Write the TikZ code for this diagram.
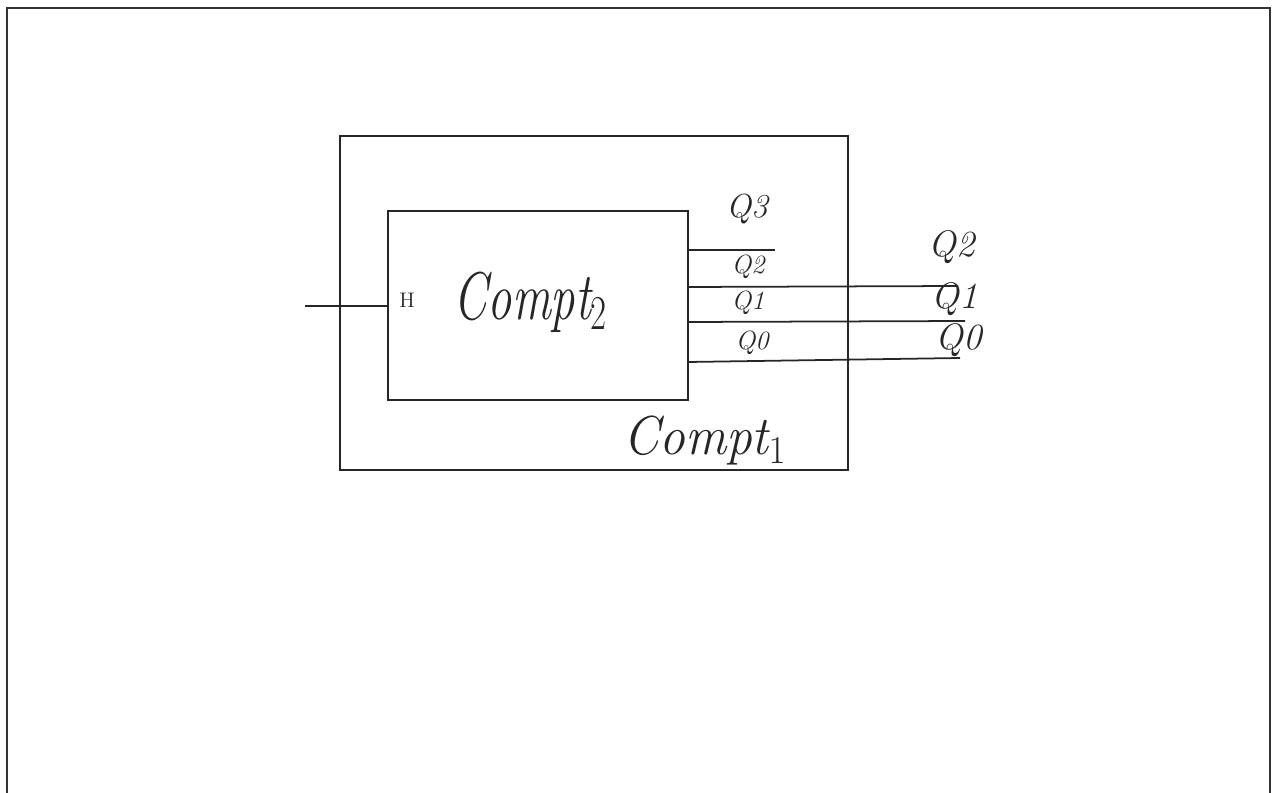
\documentclass[tikz,border=0pt]{standalone}
\usepackage{graphicx}
\begin{document}
\begin{tikzpicture}[x=0.02cm,y=-0.02cm,
  ink/.style={draw=black!85,line width=1pt},
  frame/.style={draw=black!80,line width=1.4pt},
  box/.style={ink,rectangle,inner sep=0pt},
  lbl/.style={inner sep=0pt,text=black!85},
  big/.style={lbl,font=\fontsize{24}{28}\selectfont\itshape},
  qbig/.style={lbl,font=\fontsize{21}{24}\selectfont\itshape},
  qmid/.style={lbl,font=\fontsize{19}{22}\selectfont\itshape},
  qsmall/.style={lbl,font=\fontsize{15}{18}\selectfont\itshape},
  tiny/.style={lbl,font=\fontsize{12}{14}\selectfont}
]
\useasboundingbox (0,0) rectangle (1275,793);
% page frame
\coordinate (fbl) at (7,793);
\coordinate (ftl) at (7,8);
\coordinate (ftr) at (1270,8);
\coordinate (fbr) at (1270,793);
\draw[frame] (fbl) -- (ftl) -- (ftr) -- (fbr);

% boxes
\node[box,minimum width=10.16cm,minimum height=6.68cm] (outer) at (594,303) {};
\node[box,minimum width=6cm,minimum height=3.78cm] (inner) at (538,305.5) {};

% box titles
\node[big] (t2) at (531,302) {\scalebox{1.15}[1.6]{Compt$_{2}$}};
\node[big] (t1) at (705,441) {\scalebox{1.22}[1.3]{Compt$_{1}$}};

% clock input
\coordinate (hin) at (305,306);
\draw[ink] (hin) -- (hin -| inner.west);
\node[tiny] (h) at (407,300) {H};

% outputs
\coordinate (o3a) at (688,250);
\coordinate (o3b) at (775,250);
\coordinate (o2a) at (688,287);
\coordinate (o2b) at (958,286);
\coordinate (o1a) at (688,322);
\coordinate (o1b) at (965,321);
\coordinate (o0a) at (688,362);
\coordinate (o0b) at (960,358);
\draw[ink] (o3a) -- (o3b);
\draw[ink] (o2a) -- (o2b);
\draw[ink] (o1a) -- (o1b);
\draw[ink] (o0a) -- (o0b);

% inner labels
\node[qmid] (q3) at (747,209) {Q3};
\node[qsmall] (q2) at (748,267) {Q2};
\node[qsmall] (q1) at (748,303) {Q1};
\node[qsmall] (q0) at (752,343) {Q0};

% outer labels
\node[qbig] (Q2) at (952,247) {Q2};
\node[qbig] (Q1) at (955,299) {Q1};
\node[qbig] (Q0) at (959,340) {Q0};
\end{tikzpicture}
\end{document}
